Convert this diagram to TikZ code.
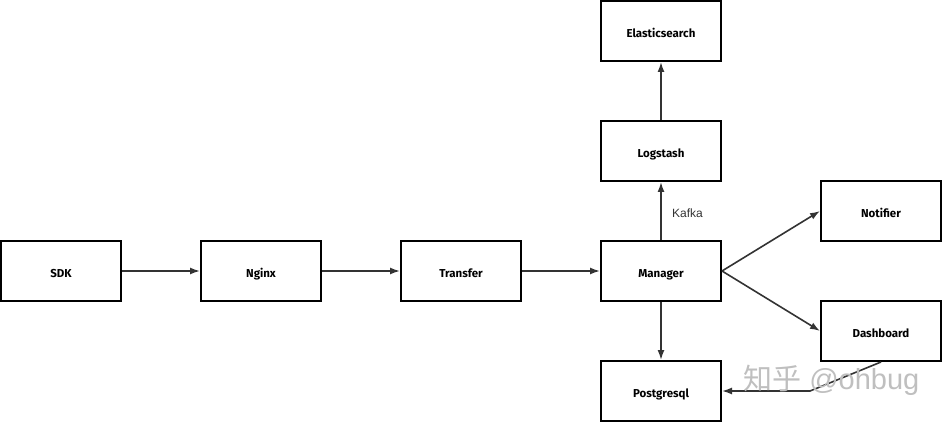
\documentclass[tikz,border=0pt]{standalone}
\usepackage{fontspec}
\setmainfont{Fira Sans}
\newfontfamily\kafkafont{Liberation Sans}
\newfontfamily\cjk{Noto Sans CJK SC}
\usetikzlibrary{arrows.meta}
\definecolor{linec}{HTML}{333333}
\tikzset{
  box/.style={draw=black, line width=2pt, fill=white, minimum width=120pt, minimum height=60pt,
    inner sep=0pt, text height=12.5pt, text depth=0pt, font=\fontsize{11.5}{12}\selectfont\bfseries},
  conn/.style={draw=linec, line width=1.6pt, -{Latex[length=10pt,width=7pt]}},
  lbl/.style={font=\kafkafont\fontsize{12}{14}\selectfont, text=linec, inner sep=0pt},
}
\begin{document}
\begin{tikzpicture}[x=1pt,y=-1pt]
\useasboundingbox (0,0) rectangle (942,422);
\node[box] (sdk) at (61,271) {SDK};
\node[box] (nginx) at (261,271) {Nginx};
\node[box] (transfer) at (461,271) {Transfer};
\node[box] (manager) at (661,271) {Manager};
\node[box] (es) at (661,31) {Elasticsearch};
\node[box] (logstash) at (661,151) {Logstash};
\node[box] (notifier) at (881,211) {Notifier};
\node[box] (dashboard) at (881,331) {Dashboard};
\node[box] (pg) at (661,391) {Postgresql};
\coordinate (bend) at (810,391);
\draw[conn] (sdk) -- (nginx);
\draw[conn] (nginx) -- (transfer);
\draw[conn] (transfer) -- (manager);
\draw[conn] (manager) -- (logstash);
\node[lbl, anchor=west] (kafka) at (672,213) {Kafka};
\draw[conn] (logstash) -- (es);
\draw[conn] (manager) -- (pg);
\draw[conn] (manager.east) -- (notifier.west);
\draw[conn] (manager.east) -- (dashboard.west);
\draw[conn] (dashboard.south) -- (bend) -- (pg.east);
\node[anchor=west, text=black!25, inner sep=0pt, font=\fontsize{29}{31}\selectfont] (wm) at (743,380) {\cjk 知乎\kafkafont\ @ohbug};
\end{tikzpicture}
\end{document}
